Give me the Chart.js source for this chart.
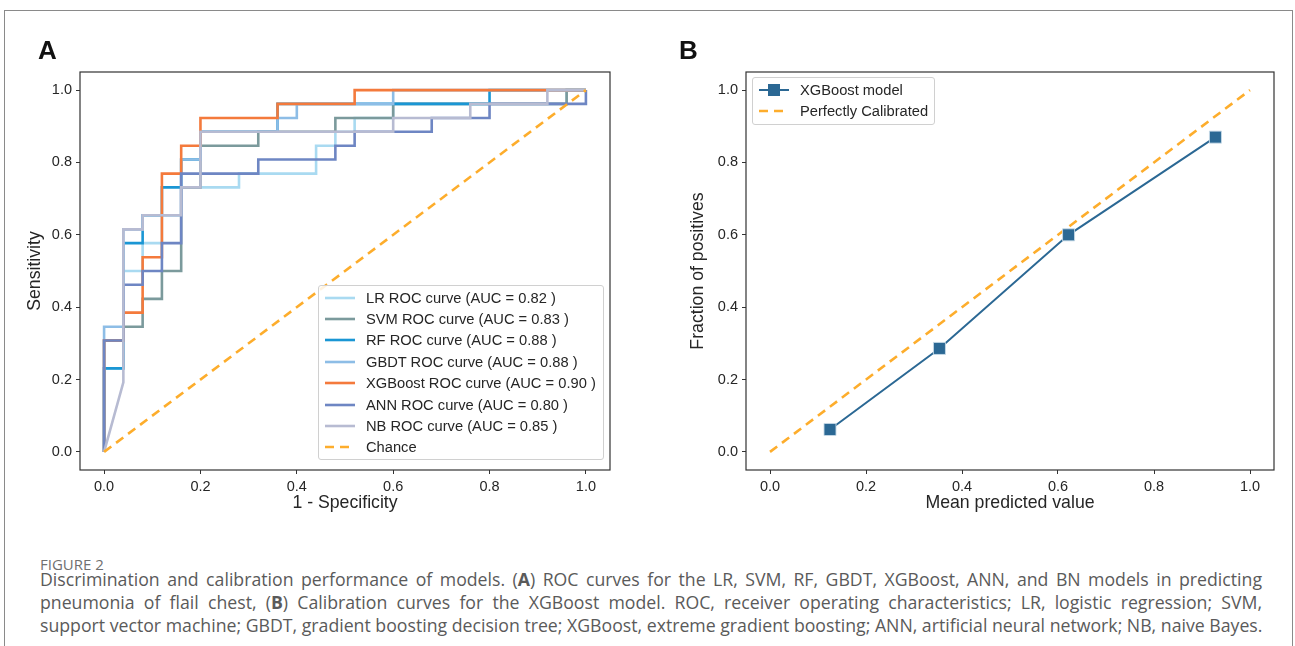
<!DOCTYPE html>
<html>
<head>
<meta charset="utf-8">
<script src="https://cdn.jsdelivr.net/npm/chart.js@4.4.0/dist/chart.umd.min.js"></script>
<style>
  body { margin: 0; background: #fff; width: 1295px; height: 646px; overflow: hidden; position: relative; font-family: "Liberation Sans", Arial, sans-serif; }
  #frame { position: absolute; left: 4px; top: 10px; width: 1287px; height: 700px; border: 1px solid #8a8a8a; }
  canvas { position: absolute; top: 0; }
  #chartA { left: 0; }
  #chartB { left: 650px; }
  .panel { position: absolute; top: 35px; font: bold 26px "Liberation Sans", Arial, sans-serif; color: #111; }
  .legend { position: absolute; background: rgba(255,255,255,0.85); border: 1px solid #d0d0d0; border-radius: 3px; font-size: 14.7px; color: #262626; }
  .legend .row { height: 21.4px; display: flex; align-items: center; white-space: nowrap; }
  .legend canvas { position: static; margin: 0 11px 0 6px; }
  #figlabel { position: absolute; left: 40px; top: 554px; font: 15px "Open Sans", "Noto Sans", sans-serif; color: #707070; }
  #caption { position: absolute; left: 40px; top: 568px; width: 1222px; font: 17.7px "Open Sans", "Noto Sans", sans-serif; color: #5a5a5a; line-height: 22.8px; }
  #caption .j { text-align: justify; text-align-last: justify; white-space: nowrap; }
  #caption .l { white-space: nowrap; }
</style>
</head>
<body>
<div id="frame"></div>
<canvas id="chartA" width="650" height="530"></canvas>
<canvas id="chartB" width="645" height="530"></canvas>
<div class="panel" style="left:38px">A</div>
<div class="panel" style="left:679px">B</div>
<div class="legend" id="legendA" style="left:318px; top:285px; width:284px; padding:1px 0 1px 0;"></div>
<div class="legend" id="legendB" style="left:752px; top:77px; width:181px; padding:1px 0 2px 0;"></div>
<div id="figlabel">FIGURE 2</div>
<div id="caption">
  <div class="j">Discrimination and calibration performance of models. (<b>A</b>) ROC curves for the LR, SVM, RF, GBDT, XGBoost, ANN, and BN models in predicting</div>
  <div class="j">pneumonia of flail chest, (<b>B</b>) Calibration curves for the XGBoost model. ROC, receiver operating characteristics; LR, logistic regression; SVM,</div>
  <div class="l">support vector machine; GBDT, gradient boosting decision tree; XGBoost, extreme gradient boosting; ANN, artificial neural network; NB, naive Bayes.</div>
</div>
<script>
const FONT = '"Liberation Sans", Arial, sans-serif';

// Panel A: ROC curves (false positive rate / true positive rate)
const modelNames = ["LR", "SVM", "RF", "GBDT", "XGBoost", "ANN", "NB"];
const aucValues = [0.82, 0.83, 0.88, 0.88, 0.90, 0.80, 0.85];
const modelColors = ["#a9daf1", "#7b9a9c", "#1a96d4", "#8dbde6", "#f47a3c", "#6e86c3", "#b7bbd2"];

const lrFpr = [0, 0, 0.04, 0.04, 0.08, 0.08, 0.12, 0.12, 0.16, 0.16, 0.28, 0.28, 0.44, 0.44, 0.48, 0.48, 0.52, 0.52, 0.6, 0.6, 0.96, 0.96, 1];
const lrTpr = [0, 0.231, 0.231, 0.5, 0.5, 0.577, 0.577, 0.654, 0.654, 0.731, 0.731, 0.769, 0.769, 0.846, 0.846, 0.885, 0.885, 0.923, 0.923, 0.962, 0.962, 1, 1];

const svmFpr = [0, 0, 0.04, 0.04, 0.08, 0.08, 0.12, 0.12, 0.16, 0.16, 0.2, 0.2, 0.32, 0.32, 0.48, 0.48, 0.6, 0.6, 0.96, 0.96, 1];
const svmTpr = [0, 0.308, 0.308, 0.346, 0.346, 0.423, 0.423, 0.5, 0.5, 0.731, 0.731, 0.846, 0.846, 0.885, 0.885, 0.923, 0.923, 0.962, 0.962, 1, 1];

const rfFpr = [0, 0, 0.04, 0.04, 0.08, 0.08, 0.12, 0.12, 0.16, 0.16, 0.2, 0.2, 0.36, 0.36, 0.8, 0.8, 1];
const rfTpr = [0, 0.231, 0.231, 0.577, 0.577, 0.654, 0.654, 0.731, 0.731, 0.808, 0.808, 0.885, 0.885, 0.962, 0.962, 1, 1];

const gbdtFpr = [0, 0, 0.04, 0.04, 0.08, 0.08, 0.16, 0.16, 0.2, 0.2, 0.36, 0.36, 0.4, 0.4, 0.6, 0.6, 1];
const gbdtTpr = [0, 0.346, 0.346, 0.615, 0.615, 0.654, 0.654, 0.808, 0.808, 0.885, 0.885, 0.923, 0.923, 0.962, 0.962, 1, 1];

const xgbFpr = [0, 0, 0.04, 0.04, 0.08, 0.08, 0.12, 0.12, 0.16, 0.16, 0.2, 0.2, 0.36, 0.36, 0.52, 0.52, 1];
const xgbTpr = [0, 0.308, 0.308, 0.385, 0.385, 0.538, 0.538, 0.769, 0.769, 0.846, 0.846, 0.923, 0.923, 0.962, 0.962, 1, 1];

const annFpr = [0, 0, 0.04, 0.04, 0.08, 0.08, 0.12, 0.12, 0.16, 0.16, 0.32, 0.32, 0.48, 0.48, 0.52, 0.52, 0.68, 0.68, 0.8, 0.8, 1, 1];
const annTpr = [0, 0.308, 0.308, 0.462, 0.462, 0.5, 0.5, 0.577, 0.577, 0.769, 0.769, 0.808, 0.808, 0.846, 0.846, 0.885, 0.885, 0.923, 0.923, 0.962, 0.962, 1];

const nbFpr = [0, 0.04, 0.04, 0.08, 0.08, 0.16, 0.16, 0.2, 0.2, 0.6, 0.6, 0.76, 0.76, 0.92, 0.92, 1];
const nbTpr = [0, 0.192, 0.615, 0.615, 0.654, 0.654, 0.731, 0.731, 0.885, 0.885, 0.923, 0.923, 0.962, 0.962, 1, 1];

const chanceX = [0, 1];
const chanceY = [0, 1];

// Panel B: calibration curve
const meanPredicted = [0.125, 0.353, 0.622, 0.928];
const fractionPositives = [0.062, 0.286, 0.600, 0.870];
const perfectX = [0, 1];
const perfectY = [0, 1];

const tickVals = [0, 0.2, 0.4, 0.6, 0.8, 1.0];
const chanceColor = "#fdad2c";
const calibColor = "#2b6894";

const rocX = [lrFpr, svmFpr, rfFpr, gbdtFpr, xgbFpr, annFpr, nbFpr];
const rocY = [lrTpr, svmTpr, rfTpr, gbdtTpr, xgbTpr, annTpr, nbTpr];

function pts(xs, ys) {
    return xs.map((x, i) => ({ x: x, y: ys[i] }));
}

function makeAxis(title, titlePad, size, isY) {
    return {
        type: "linear",
        min: -0.05,
        max: 1.05,
        afterBuildTicks: s => { s.ticks = tickVals.map(v => ({ value: v })); },
        afterFit: s => { if (isY) s.width = size; else s.height = size; },
        ticks: { callback: v => v.toFixed(1), color: "#262626", font: { size: 14.5, family: FONT }, padding: 4, autoSkip: false, maxRotation: 0 },
        grid: { display: true, drawOnChartArea: false, drawTicks: true, tickLength: 4, color: "#333", lineWidth: 1 },
        border: { display: false },
        title: { display: true, text: title, color: "#262626", font: { size: 17.7, family: FONT }, padding: { top: titlePad, bottom: titlePad } }
    };
}

const boxPlugin = {
    id: "box",
    afterDraw(chart) {
        const a = chart.chartArea;
        const ctx = chart.ctx;
        ctx.save();
        ctx.strokeStyle = "#333";
        ctx.lineWidth = 1.2;
        ctx.strokeRect(a.left, a.top, a.right - a.left, a.bottom - a.top);
        ctx.restore();
    }
};

// later series sit on top, as in the original plot (lower order = drawn later)
const rocDatasets = modelNames.map((name, i) => ({
    label: name + " ROC curve (AUC = " + aucValues[i].toFixed(2) + " )",
    data: pts(rocX[i], rocY[i]),
    borderColor: modelColors[i],
    borderWidth: 2.6,
    pointRadius: 0,
    fill: false,
    tension: 0,
    order: modelNames.length + 1 - i
}));
rocDatasets.push({
    label: "Chance",
    data: pts(chanceX, chanceY),
    borderColor: chanceColor,
    borderWidth: 2.6,
    borderDash: [9, 6],
    pointRadius: 0,
    fill: false,
    order: 0
});

new Chart(document.getElementById("chartA"), {
    type: "line",
    data: { datasets: rocDatasets },
    options: {
        responsive: false,
        animation: false,
        devicePixelRatio: 1,
        layout: { padding: { top: 72, right: 40, left: 0, bottom: 0 } },
        plugins: { legend: { display: false }, tooltip: { enabled: false } },
        scales: {
            x: makeAxis("1 - Specificity", 16, 60, false),
            y: makeAxis("Sensitivity", 24, 80, true)
        }
    },
    plugins: [boxPlugin]
});

new Chart(document.getElementById("chartB"), {
    type: "line",
    data: {
        datasets: [{
            label: "XGBoost model",
            data: pts(meanPredicted, fractionPositives),
            borderColor: calibColor,
            backgroundColor: calibColor,
            borderWidth: 2,
            pointStyle: "rect",
            pointRadius: 8.5,
            pointBorderColor: "rgba(200,218,232,0.9)",
            pointBorderWidth: 1,
            fill: false,
            tension: 0,
            order: 1
        }, {
            label: "Perfectly Calibrated",
            data: pts(perfectX, perfectY),
            borderColor: chanceColor,
            borderWidth: 2.6,
            borderDash: [9, 6],
            pointRadius: 0,
            fill: false,
            order: 2
        }]
    },
    options: {
        responsive: false,
        animation: false,
        devicePixelRatio: 1,
        layout: { padding: { top: 72, right: 21, left: 0, bottom: 0 } },
        plugins: { legend: { display: false }, tooltip: { enabled: false } },
        scales: {
            x: makeAxis("Mean predicted value", 16, 60, false),
            y: makeAxis("Fraction of positives", 37, 96, true)
        }
    },
    plugins: [boxPlugin]
});

// html legends built from the same series definitions
function sample(color, dashed, marker) {
    const c = document.createElement("canvas");
    c.width = 30; c.height = 12;
    const g = c.getContext("2d");
    g.strokeStyle = color;
    g.lineWidth = marker ? 2 : 2.6;
    if (dashed) g.setLineDash([9, 6]);
    g.beginPath(); g.moveTo(0, 6); g.lineTo(30, 6); g.stroke();
    if (marker) {
        g.fillStyle = color;
        g.fillRect(9, 0, 12, 12);
    }
    return c;
}

function addRow(box, color, dashed, marker, text) {
    const row = document.createElement("div");
    row.className = "row";
    row.appendChild(sample(color, dashed, marker));
    row.appendChild(document.createTextNode(text));
    box.appendChild(row);
}

const legendA = document.getElementById("legendA");
rocDatasets.forEach((d, i) => addRow(legendA, d.borderColor, i === rocDatasets.length - 1, false, d.label));

const legendB = document.getElementById("legendB");
addRow(legendB, calibColor, false, true, "XGBoost model");
addRow(legendB, chanceColor, true, false, "Perfectly Calibrated");
</script>
</body>
</html>
